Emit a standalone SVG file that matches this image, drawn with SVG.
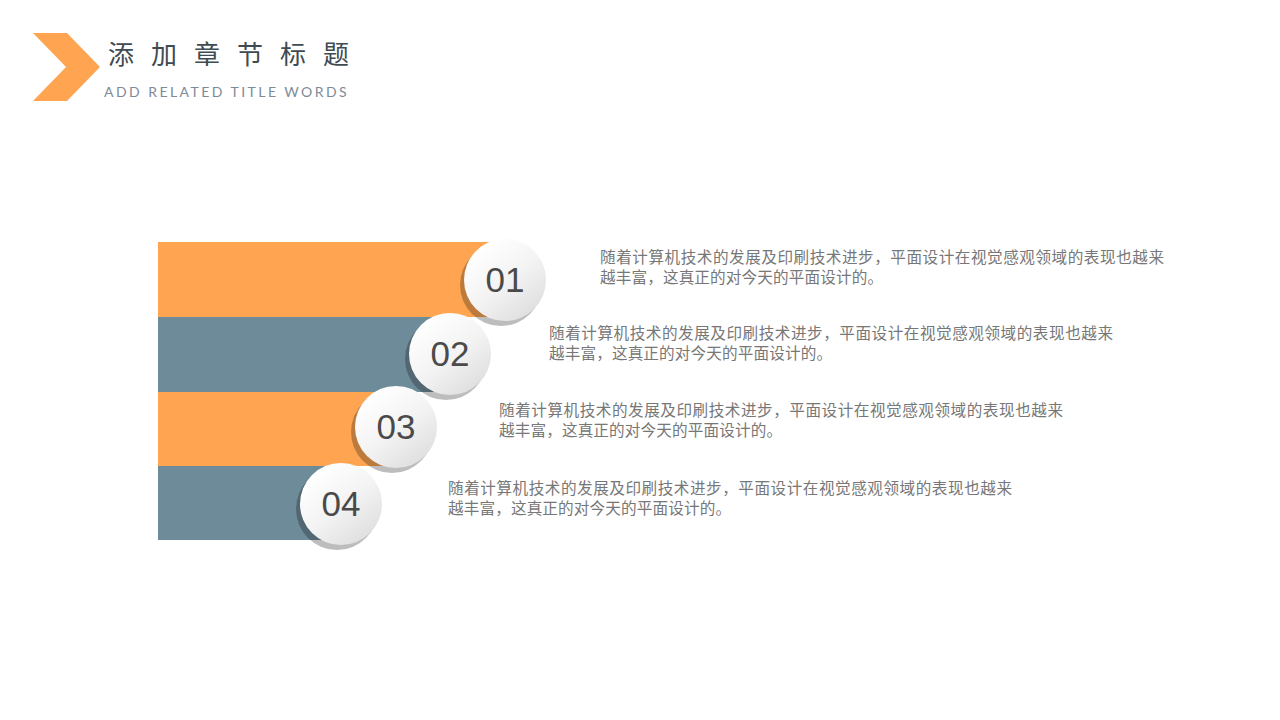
<svg xmlns="http://www.w3.org/2000/svg" width="1280" height="720" viewBox="0 0 1280 720">
<defs>
<linearGradient id="ball" x1="0.2" y1="0.1" x2="0.85" y2="0.95">
<stop offset="0" stop-color="#ffffff"/>
<stop offset="0.5" stop-color="#f3f3f3"/>
<stop offset="1" stop-color="#dddddd"/>
</linearGradient>
<filter id="soft" x="-20%" y="-20%" width="140%" height="140%"><feGaussianBlur stdDeviation="0.6"/></filter>
<style>
.orange{fill:#FFA552}
.slate{fill:#6E8B99}
.shadow{fill:#000;fill-opacity:0.26;filter:url(#soft)}
.ball{fill:url(#ball)}
.num{font-family:"Liberation Sans",Arial,sans-serif;font-size:35px;fill:#4a4a4a;text-anchor:middle}
.desc{font-family:"Noto Sans CJK SC","Noto Sans",sans-serif;font-size:15.6px;fill:#777777}
</style>
</defs>
<rect width="1280" height="720" fill="#ffffff"/>
<g id="header">
<polygon points="33,33 67,33 100,67 67,101 33,101 66,67" class="orange"/>
<text x="108" y="64" font-family="Noto Sans CJK SC,sans-serif" font-size="26" letter-spacing="17" fill="#3f4b52">添加章节标题</text>
<text x="104" y="97" font-family="Lato,'Liberation Sans',sans-serif" font-size="14" letter-spacing="2.45" fill="#7d8b98">ADD RELATED TITLE WORDS</text>
</g>
<g id="bars">
<rect x="158" y="242" width="347" height="75" class="orange"/>
<rect x="158" y="317" width="292" height="75" class="slate"/>
<rect x="158" y="392" width="238" height="74" class="orange"/>
<rect x="158" y="466" width="183" height="74" class="slate"/>
</g>
<g id="node1">
<circle cx="501" cy="285" r="41" class="shadow"/>
<circle cx="505" cy="280" r="41" class="ball"/>
<text x="505" y="292" class="num">01</text>
</g>
<g id="node2">
<circle cx="446" cy="359" r="41" class="shadow"/>
<circle cx="450" cy="354" r="41" class="ball"/>
<text x="450" y="366" class="num">02</text>
</g>
<g id="node3">
<circle cx="392" cy="432" r="41" class="shadow"/>
<circle cx="396" cy="427" r="41" class="ball"/>
<text x="396" y="439" class="num">03</text>
</g>
<g id="node4">
<circle cx="337" cy="509" r="41" class="shadow"/>
<circle cx="341" cy="504" r="41" class="ball"/>
<text x="341" y="516" class="num">04</text>
</g>
<g id="texts">
<text class="desc" x="600" y="263" textLength="564" lengthAdjust="spacing">随着计算机技术的发展及印刷技术进步，平面设计在视觉感观领域的表现也越来</text>
<text class="desc" x="600" y="283" textLength="283" lengthAdjust="spacing">越丰富，这真正的对今天的平面设计的。</text>
<text class="desc" x="549" y="339" textLength="564" lengthAdjust="spacing">随着计算机技术的发展及印刷技术进步，平面设计在视觉感观领域的表现也越来</text>
<text class="desc" x="549" y="359" textLength="283" lengthAdjust="spacing">越丰富，这真正的对今天的平面设计的。</text>
<text class="desc" x="499" y="416" textLength="564" lengthAdjust="spacing">随着计算机技术的发展及印刷技术进步，平面设计在视觉感观领域的表现也越来</text>
<text class="desc" x="499" y="436" textLength="283" lengthAdjust="spacing">越丰富，这真正的对今天的平面设计的。</text>
<text class="desc" x="448" y="494" textLength="564" lengthAdjust="spacing">随着计算机技术的发展及印刷技术进步，平面设计在视觉感观领域的表现也越来</text>
<text class="desc" x="448" y="514" textLength="283" lengthAdjust="spacing">越丰富，这真正的对今天的平面设计的。</text>
</g>
<g id="connectors"/>
</svg>
